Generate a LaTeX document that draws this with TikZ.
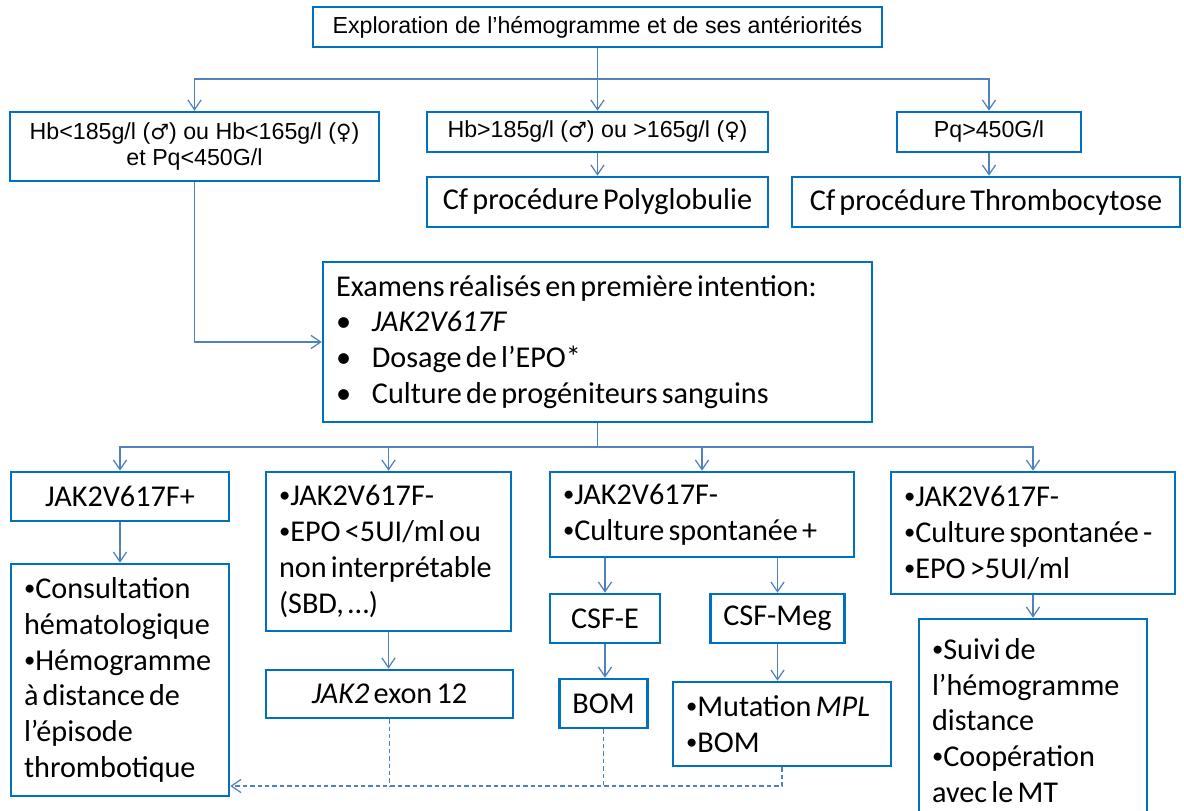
\documentclass[tikz,border=0pt]{standalone}
\usepackage{fontspec}
\setmainfont{Carlito}
\newfontfamily\arialfont{Liberation Sans}
\newfontfamily\symfont{DejaVu Sans}
\usetikzlibrary{arrows.meta}
\definecolor{boxblue}{RGB}{0,112,192}
\definecolor{linkblue}{RGB}{79,129,189}
\newcommand{\calsize}{\fontsize{17.2}{20.4}\selectfont}
\newcommand{\tightsp}{\spaceskip=0.14em plus 0.05em\xspaceskip=0.2em plus 0.05em\relax}
\newcommand{\arsize}{\arialfont\fontsize{13.2}{15.3}\selectfont}
\newcommand{\bul}{\makebox[20.4pt][l]{•}}
\newcommand{\bp}{\raisebox{0.1em}{\scalebox{0.75}{•}}}
\newcommand{\male}{{\symfont\fontsize{12}{15}\selectfont ♂}}
\newcommand{\female}{{\symfont\fontsize{12}{15}\selectfont ♀}}

\begin{document}
\begin{tikzpicture}[x=0.02cm, y=-0.02cm]
\tikzstyle{frame}=[draw=boxblue, line width=1.5pt, rectangle, inner xsep=0.26cm, inner ysep=0pt]
\tikzstyle{box}=[frame, font=\calsize, execute at begin node=\tightsp]
\tikzstyle{abox}=[frame, font=\arsize, align=center]
\tikzstyle{link}=[draw=linkblue, line width=0.7pt]
\tikzstyle{arr}=[link, -{Straight Barb[length=5.5pt, width=7.5pt]}]
\tikzstyle{dlink}=[link, dash pattern=on 2.5pt off 1.7pt]

\clip (0,0) rectangle (1184,811);
\fill[white] (0,0) rectangle (1184,811);

\node[abox, minimum width=11.38cm, minimum height=0.8cm] (expl) at (597.5,27) {Exploration de l’hémogramme et de ses antériorités};
\node[abox, minimum width=7.38cm, minimum height=1.38cm] (hbnorm) at (194.5,146.5) {Hb<185g/l (\male) ou Hb<165g/l (\female)\\et Pq<450G/l};
\node[abox, minimum width=6.82cm, minimum height=0.8cm] (hbhigh) at (597.5,132) {Hb>185g/l (\male) ou >165g/l (\female)};
\node[abox, minimum width=3.68cm, minimum height=0.8cm] (pqhigh) at (989,132) {Pq>450G/l};
\node[box, minimum width=6.82cm, minimum height=1cm] (polyglob) at (597.5,202) {Cf procédure Polyglobulie};
\node[box, minimum width=7.76cm, minimum height=1cm] (thrombo) at (986,202) {Cf procédure Thrombocytose};

\node[box, minimum width=10.98cm, minimum height=3.2cm, text width=10.46cm, align=left] (exams) at (597.5,342)
{Examens réalisés en première intention:\\\bul\textit{JAK2V617F}\\\bul Dosage de l’EPO*\\\bul Culture de progéniteurs sanguins};

\node[box, minimum width=4.36cm, minimum height=0.98cm] (jakpos) at (120,496.5) {JAK2V617F+};
\node[box, minimum width=4.9cm, minimum height=3.18cm, text width=4.38cm, align=left] (jakneg) at (388.5,551.5)
{\bp JAK2V617F-\\\bp EPO <5UI/ml ou\\non interprétable\\(SBD, …)};
\node[box, minimum width=6.08cm, minimum height=1.7cm, text width=5.56cm, align=left] (cultpos) at (702,514.5)
{\bp JAK2V617F-\\\bp Culture spontanée +};
\node[box, minimum width=5.68cm, minimum height=2.44cm, text width=5.16cm, align=left] (cultneg) at (1033,533)
{\bp JAK2V617F-\\\bp Culture spontanée -\\\bp EPO >5UI/ml};

\node[box, minimum width=4.36cm, minimum height=4.64cm, text width=3.84cm, align=left] (consult) at (120,680)
{\bp Consultation\\hématologique\\\bp Hémogramme\\à distance de\\l’épisode\\thrombotique};
\node[box, minimum width=4.94cm, minimum height=0.96cm] (exon) at (389.5,694) {\textit{JAK2} exon 12};
\node[box, minimum width=2.2cm, minimum height=0.98cm] (csfe) at (605,618.5) {CSF-E};
\node[box, minimum width=2.66cm, minimum height=0.98cm] (csfmeg) at (777.5,618.5) {CSF-Meg};
\node[box, minimum width=1.74cm, minimum height=0.98cm] (bom) at (603.5,703.5) {BOM};
\node[box, minimum width=4.36cm, minimum height=1.68cm, text width=3.84cm, align=left] (mpl) at (782,724)
{\bp Mutation \textit{MPL}\\\bp BOM};
\node[box, minimum width=4.56cm, minimum height=4.06cm, text width=4.04cm, align=left] (suivi) at (1033,720.5)
{\bp Suivi de\\l’hémogramme\\distance\\\bp Coopération\\avec le MT};

\coordinate (split1) at (597.5,79);
\coordinate (split2) at (597.5,447);
\coordinate (back) at (782,786);

\draw[link] (expl) -- (split1);
\draw[arr] (split1) -| (hbnorm.north);
\draw[arr] (split1) -- (hbhigh.north);
\draw[arr] (split1) -| (pqhigh.north);
\path[arr] (hbhigh) edge (polyglob);
\draw[arr] (pqhigh.south) -- (pqhigh.south |- thrombo.north);
\draw[arr] (hbnorm.south) |- (exams.west);

\draw[link] (exams) -- (split2);
\draw[arr] (split2) -| (jakpos.north);
\draw[arr] (split2) -| (jakneg.north);
\draw[arr] (split2) -| (cultpos.north);
\draw[arr] (split2) -| (cultneg.north);

\path[arr] (jakpos) edge (consult)
           (cultneg) edge (suivi);
\draw[arr] (jakneg.south) -- (jakneg.south |- exon.north);
\draw[arr] (csfe.north |- cultpos.south) -- (csfe.north);
\draw[arr] (csfmeg.north |- cultpos.south) -- (csfmeg.north);
\draw[arr] (csfe.south) -- (csfe.south |- bom.north);
\draw[arr] (csfmeg.south) -- (csfmeg.south |- mpl.north);

\draw[dlink] (exon.south) -- (exon.south |- back);
\draw[dlink] (bom.south) -- (bom.south |- back);
\draw[dlink, -{Straight Barb[length=5.5pt, width=7.5pt]}] (mpl.south) |- (consult.east |- back);
\end{tikzpicture}
\end{document}
